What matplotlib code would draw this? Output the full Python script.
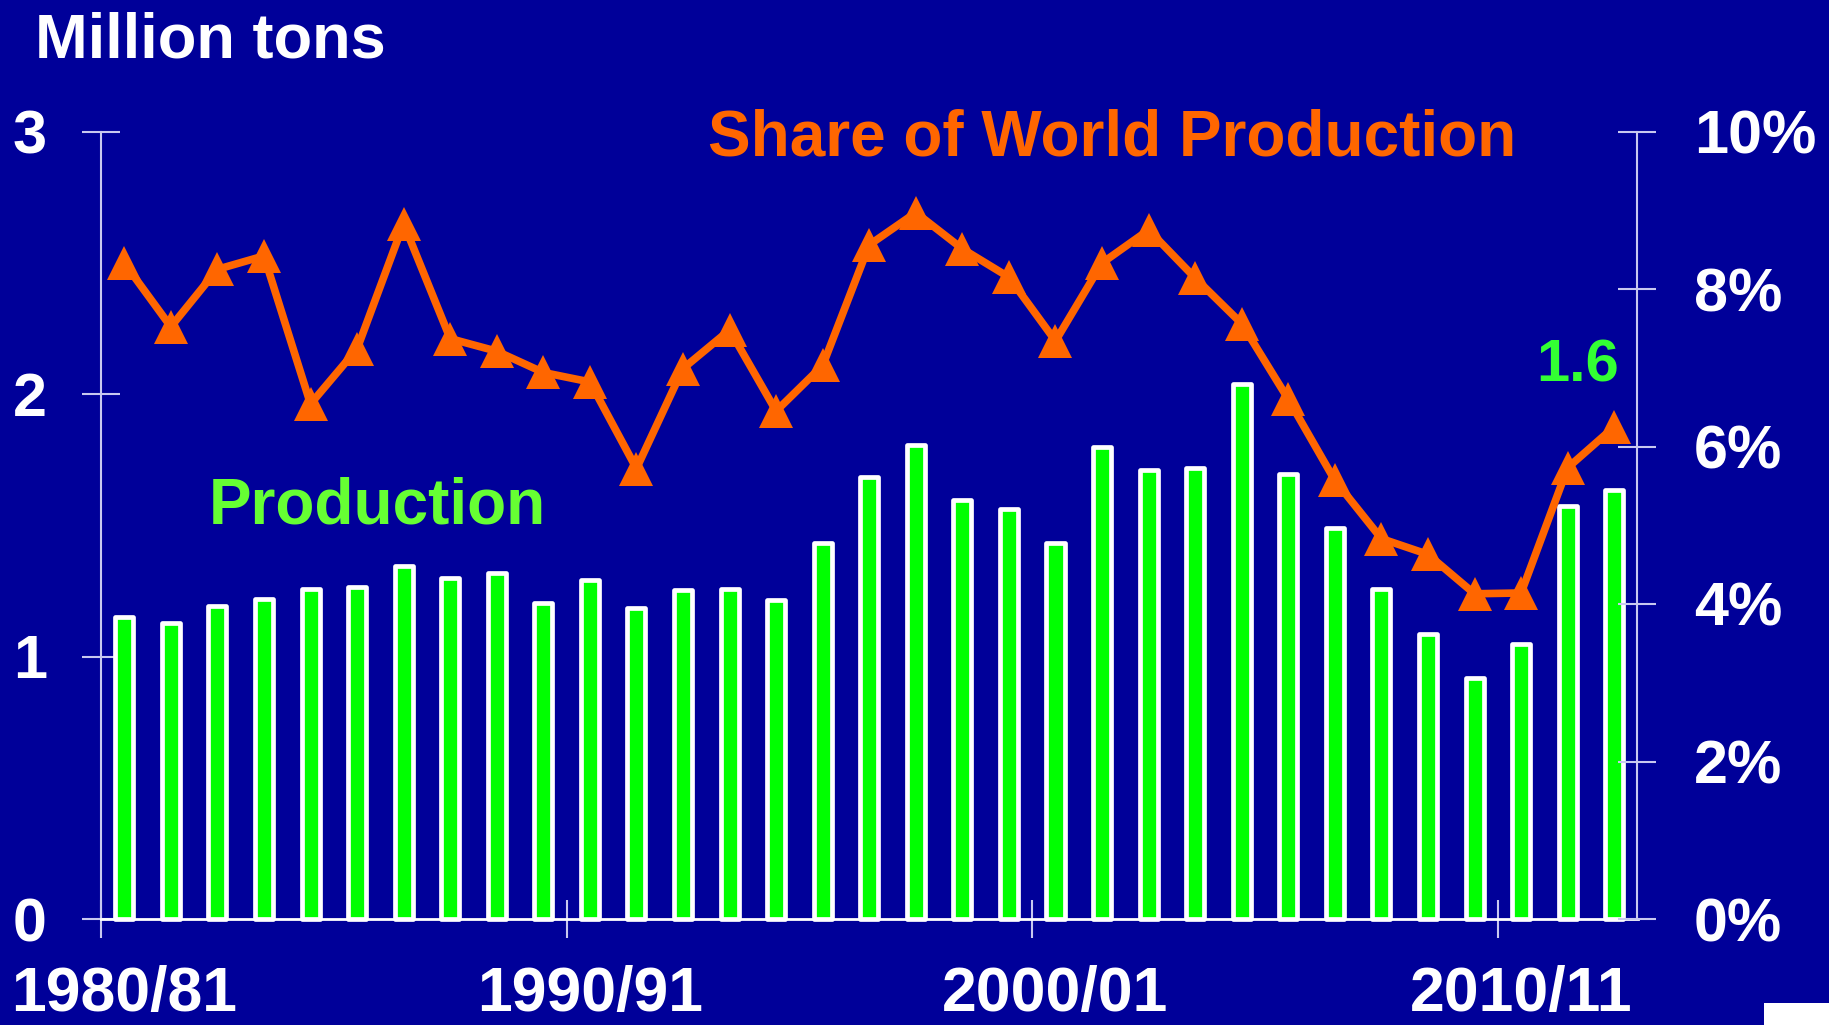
import matplotlib
matplotlib.use('Agg')
import matplotlib.pyplot as plt
from matplotlib.patches import Rectangle
import numpy as np

plt.rcParams['font.family'] = ['Liberation Sans', 'DejaVu Sans']
plt.rcParams['font.weight'] = 'bold'

# ---- data ----
years = list(range(1980, 2013))
production = [1.149, 1.126, 1.194, 1.219, 1.256, 1.265, 1.345, 1.299, 1.318, 1.204, 1.291, 1.184,
              1.252, 1.259, 1.215, 1.433, 1.685, 1.807, 1.598, 1.561, 1.431, 1.800, 1.710, 1.718,
              2.039, 1.694, 1.488, 1.258, 1.085, 0.917, 1.048, 1.572, 1.633]
share = [8.33, 7.52, 8.25, 8.42, 6.54, 7.24, 8.83, 7.37, 7.21, 6.94, 6.82, 5.72,
         6.99, 7.48, 6.45, 7.03, 8.56, 8.97, 8.51, 8.15, 7.34, 8.33, 8.75, 8.14,
         7.56, 6.60, 5.57, 4.83, 4.63, 4.13, 4.14, 5.73, 6.25]
x_label_idx = [0, 10, 20, 30]
x_labels = ['1980/81', '1990/91', '2000/01', '2010/11']
left_ticks = [0, 1, 2, 3]
left_labels = ['0', '1', '2', '3']
right_ticks = [0, 2, 4, 6, 8, 10]
right_labels = ['0%', '2%', '4%', '6%', '8%', '10%']
last_label = '1.6'

# ---- style ----
BG = '#000099'
AXC = '#C8C8F0'
W, H = 1829, 1025

fig = plt.figure(figsize=(W / 100, H / 100), dpi=100, facecolor=BG)
ax = fig.add_axes([101 / W, 1 - 919 / H, (1637.5 - 101) / W, (919 - 131.5) / H])
ax.set_facecolor(BG)

x = np.arange(len(years))
ax.bar(x, production, width=0.387, color='#00FF00', edgecolor='white',
       linewidth=3.4, joinstyle='round', zorder=2, clip_on=False)
ax.set_xlim(-0.5, 32.5)
ax.set_ylim(0, 3)

for s in ['top', 'right']:
    ax.spines[s].set_visible(False)
ax.spines['left'].set_color(AXC)
ax.spines['left'].set_linewidth(1.5)
ax.spines['bottom'].set_color('white')
ax.spines['bottom'].set_linewidth(2)

ax.set_yticks(left_ticks)
ax.set_yticklabels(left_labels)
ax.tick_params(axis='y', direction='inout', length=27, width=1.5, color=AXC,
               labelsize=44, labelcolor='white', pad=25.5)

ax.set_xticks([-0.5, 9.5, 19.5, 29.5])
ax.set_xticklabels(['', '', '', ''])
ax.tick_params(axis='x', which='major', direction='inout', length=27, width=1.5, color=AXC)
ax.set_xticks(x_label_idx, minor=True)
ax.set_xticklabels(x_labels, minor=True)
ax.tick_params(axis='x', which='minor', length=0, pad=33, labelsize=45, labelcolor='white')

ax2 = ax.twinx()
ax2.plot(x, share, color='#FF6600', lw=5.5, marker='^', ms=24, mew=0, zorder=3, clip_on=False)
ax2.set_ylim(0, 10)
for s in ['top', 'left', 'bottom']:
    ax2.spines[s].set_visible(False)
ax2.spines['right'].set_color(AXC)
ax2.spines['right'].set_linewidth(1.5)
ax2.set_yticks(right_ticks)
ax2.set_yticklabels(right_labels)
ax2.tick_params(axis='y', direction='inout', length=27, width=1.5, color=AXC,
                labelsize=44, labelcolor='white', pad=27)

# ---- texts ----
fig.text(35 / W, 1 - 57 / H, 'Million tons', color='white', fontsize=45.5,
         fontweight='bold', ha='left', va='baseline')
fig.text(708 / W, 1 - 155 / H, 'Share of World Production', color='#FF6600', fontsize=46,
         fontweight='bold', ha='left', va='baseline')
fig.text(209 / W, 1 - 524 / H, 'Production', color='#66FF33', fontsize=46,
         fontweight='bold', ha='left', va='baseline')
fig.text(1536 / W, 1 - 382 / H, last_label, color='#33FF33', fontsize=43,
         fontweight='bold', ha='left', va='baseline')

fig.patches.append(Rectangle((1764 / W, 0), 65 / W, 22 / H, transform=fig.transFigure,
                             facecolor='white', edgecolor='none'))

fig.savefig('out.png', dpi=100, facecolor=BG)
